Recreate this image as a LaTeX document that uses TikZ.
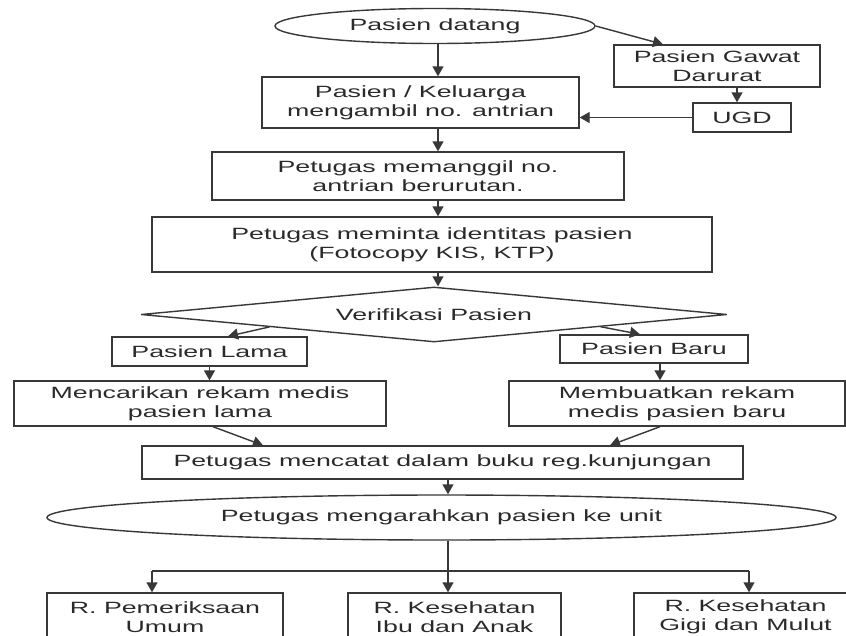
\documentclass[tikz,border=0pt]{standalone}
\usepackage{fontspec}
\setmainfont{Liberation Sans}[FakeStretch=1.64]
\usetikzlibrary{shapes.geometric,arrows.meta,calc}
\definecolor{linec}{HTML}{383838}
\definecolor{txtc}{HTML}{2A2A2A}
\tikzset{
  base/.style={draw=linec, line width=1.4pt, inner sep=0pt, align=center, text=txtc, font=\fontsize{16.3}{19}\selectfont},
  box/.style={base, rectangle},
  oval/.style={base, ellipse},
  arr/.style={draw=linec, line width=1.4pt, -{Triangle[length=10pt,width=11pt]}},
  ln/.style={draw=linec, line width=1.4pt},
}
\begin{document}
\begin{tikzpicture}[x=1pt,y=-1pt]
\useasboundingbox[fill=white] (0,0) rectangle (846,635);
\node[oval, minimum width=320pt, minimum height=35pt] (start) at (435,26) {Pasien datang};
\node[box, minimum width=206pt, minimum height=42pt] (gawat) at (717,66) {Pasien Gawat\\Darurat};
\node[box, minimum width=98pt, minimum height=29pt] (ugd) at (742,117.5) {UGD};
\node[box, minimum width=317pt, minimum height=51pt] (kel) at (420.5,102.5) {Pasien / Keluarga\\mengambil no. antrian};
\node[box, minimum width=412pt, minimum height=48pt] (mem) at (418,176) {Petugas memanggil no.\\antrian berurutan.};
\node[box, minimum width=560pt, minimum height=55pt] (ident) at (432,244.5) {Petugas meminta identitas pasien\\(Fotocopy KIS, KTP)};
\node[base, diamond, shape aspect=10.65, minimum width=586pt, minimum height=55pt] (verif) at (434,314.5) {Verifikasi Pasien};
\node[box, minimum width=195pt, minimum height=29pt] (lama) at (209.5,351.5) {Pasien Lama};
\node[box, minimum width=188pt, minimum height=28pt] (baru) at (654,349) {Pasien Baru};
\node[box, minimum width=372pt, minimum height=45pt] (cari) at (200,403.5) {Mencarikan rekam medis\\pasien lama};
\node[box, minimum width=336pt, minimum height=45pt] (buat) at (677,403.5) {Membuatkan rekam\\medis pasien baru};
\node[box, minimum width=601pt, minimum height=33pt] (reg) at (442.5,462.5) {Petugas mencatat dalam buku reg.kunjungan};
\node[oval, minimum width=789pt, minimum height=45pt] (unit) at (441.5,517.5) {Petugas mengarahkan pasien ke unit};
\node[box, minimum width=236pt, minimum height=48pt] (r1) at (165,617) {R. Pemeriksaan\\Umum};
\node[box, minimum width=213pt, minimum height=48pt] (r2) at (454.5,617) {R. Kesehatan\\Ibu dan Anak};
\node[box, minimum width=223pt, minimum height=48pt] (r3) at (745.5,617) {R. Kesehatan\\Gigi dan Mulut};
\coordinate (c1) at (438,0);
\coordinate (c2) at (448,0);
\coordinate (hl) at (152,571);
\coordinate (hr) at (749,571);
\draw[arr] (start.south -| c1) -- (kel.north -| c1);
\draw[arr] (kel.south -| c1) -- (mem.north -| c1);
\draw[arr] (mem.south -| c1) -- (ident.north -| c1);
\draw[arr] (ident.south -| c1) -- (verif.north -| c1);
\draw[arr] (start.east) -- ([xshift=-54pt]gawat.north);
\draw[arr] ([xshift=-5pt]ugd.north |- gawat.south) -- ([xshift=-5pt]ugd.north);
\draw[arr] (ugd.west) -- (ugd.west -| kel.east);
\draw[arr] ($(verif.west)!0.44!(verif.south)$) -- ([xshift=18.5pt]lama.north);
\draw[arr] ($(verif.south)!0.567!(verif.east)$) -- ([xshift=-14pt]baru.north);
\draw[arr] (lama.south) -- (lama.south |- cari.north);
\draw[arr] ([xshift=6pt]baru.south) -- ([xshift=6pt]baru.south |- buat.north);
\draw[arr] ([xshift=13pt]cari.south) -- ([xshift=-179.5pt]reg.north);
\draw[arr] ([xshift=-17pt]buat.south) -- ([xshift=167.5pt]reg.north);
\draw[arr] (reg.south -| c2) -- (unit.north -| c2);
\draw[arr] (unit.south -| c2) -- (r2.north -| c2);
\draw[ln] (hl) -- (hr);
\draw[arr] (hl) -- (hl |- r1.north);
\draw[arr] (hr) -- (hr |- r3.north);
\end{tikzpicture}
\end{document}
